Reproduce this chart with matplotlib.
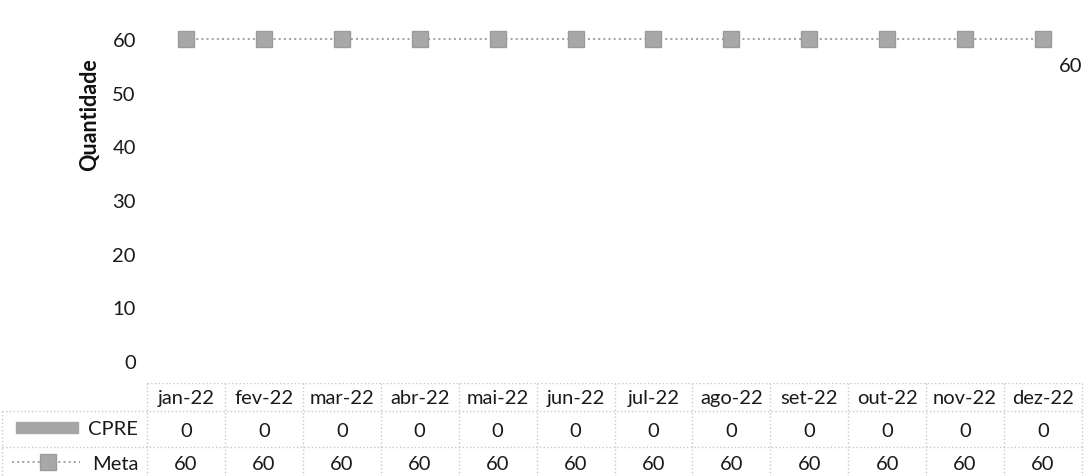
import matplotlib
matplotlib.use("Agg")
import matplotlib.pyplot as plt
from matplotlib.patches import Rectangle

plt.rcParams['font.family'] = ['Lato', 'DejaVu Sans']

meses = ['jan-22', 'fev-22', 'mar-22', 'abr-22', 'mai-22', 'jun-22',
         'jul-22', 'ago-22', 'set-22', 'out-22', 'nov-22', 'dez-22']
cpre = [0, 0, 0, 0, 0, 0, 0, 0, 0, 0, 0, 0]
meta = [60, 60, 60, 60, 60, 60, 60, 60, 60, 60, 60, 60]

W, H = 1085, 477
fs = 14.5
tc = '#1a1a1a'
fig = plt.figure(figsize=(W / 100, H / 100), dpi=100)

# pixel layout
left_px, right_px = 147, 1082
table_top = 384
px_per_unit = (362 - 40) / 60.0
ymin = -(table_top - 362) / px_per_unit
ymax = 60 + 40 / px_per_unit

ax = fig.add_axes([left_px / W, (H - table_top) / H,
                   (right_px - left_px) / W, table_top / H])
x = list(range(len(meses)))
ax.bar(x, cpre, width=0.6, color='#a6a6a6')
ax.plot(x, meta, linestyle=':', color='#a0a0a0', linewidth=1.4,
        marker='s', markersize=11, markerfacecolor='#a8a8a8',
        markeredgecolor='#9a9a9a')
ax.annotate(str(meta[-1]), (x[-1], meta[-1]), xytext=(20, -19),
            textcoords='offset points', ha='center', va='center',
            fontsize=fs, color=tc, annotation_clip=False)
ax.set_xlim(-0.5, 11.5)
ax.set_ylim(ymin, ymax)
ax.set_yticks(range(0, 61, 10))
ax.set_xticks([])
ax.tick_params(axis='y', length=0, pad=8, labelsize=fs, labelcolor=tc)
for s in ax.spines.values():
    s.set_visible(False)
fig.text(90 / W, 1 - 115 / H, 'Quantidade', rotation=90, ha='center',
         va='center', fontsize=15.5, fontweight='bold', color='#111111')

# data table under the chart
tax = fig.add_axes([0, 0, 1, (H - table_top) / H])
tax.set_xlim(0, W)
tax.set_ylim(H, table_top)
tax.axis('off')
col_w = (right_px - left_px) / len(meses)
row_y = [table_top, 412, 448, H]
lc = '#c8c8c8'
tax.plot([left_px, right_px], [row_y[0], row_y[0]], color=lc, lw=1, ls=':')
for yy in row_y[1:3]:
    tax.plot([2, right_px], [yy, yy], color=lc, lw=1, ls=':')
for i in range(len(meses) + 1):
    xx = left_px + i * col_w
    tax.plot([xx, xx], [row_y[0], H], color=lc, lw=1, ls=':')
tax.plot([2, 2], [row_y[1], H], color=lc, lw=1, ls=':')

for i, m in enumerate(meses):
    cx = left_px + (i + 0.5) * col_w
    tax.text(cx, (row_y[0] + row_y[1]) / 2 + 1, m, ha='center', va='center',
             fontsize=fs, color=tc)
    tax.text(cx, (row_y[1] + row_y[2]) / 2 + 2, str(cpre[i]), ha='center',
             va='center', fontsize=fs, color=tc)
    tax.text(cx, (row_y[2] + H) / 2 + 2, str(meta[i]), ha='center',
             va='center', fontsize=fs, color=tc)

# legend keys
tax.add_patch(Rectangle((16, 423), 62, 11, color='#a6a6a6'))
tax.text(138, 430, 'CPRE', ha='right', va='center', fontsize=fs, color=tc)
tax.plot([12, 80], [463, 463], linestyle=':', color='#a0a0a0', lw=1.4)
tax.plot([48], [463], marker='s', markersize=11, color='#a8a8a8',
         markeredgecolor='#9a9a9a')
tax.text(138, 465, 'Meta', ha='right', va='center', fontsize=fs, color=tc)

fig.savefig('out.png', dpi=100)
